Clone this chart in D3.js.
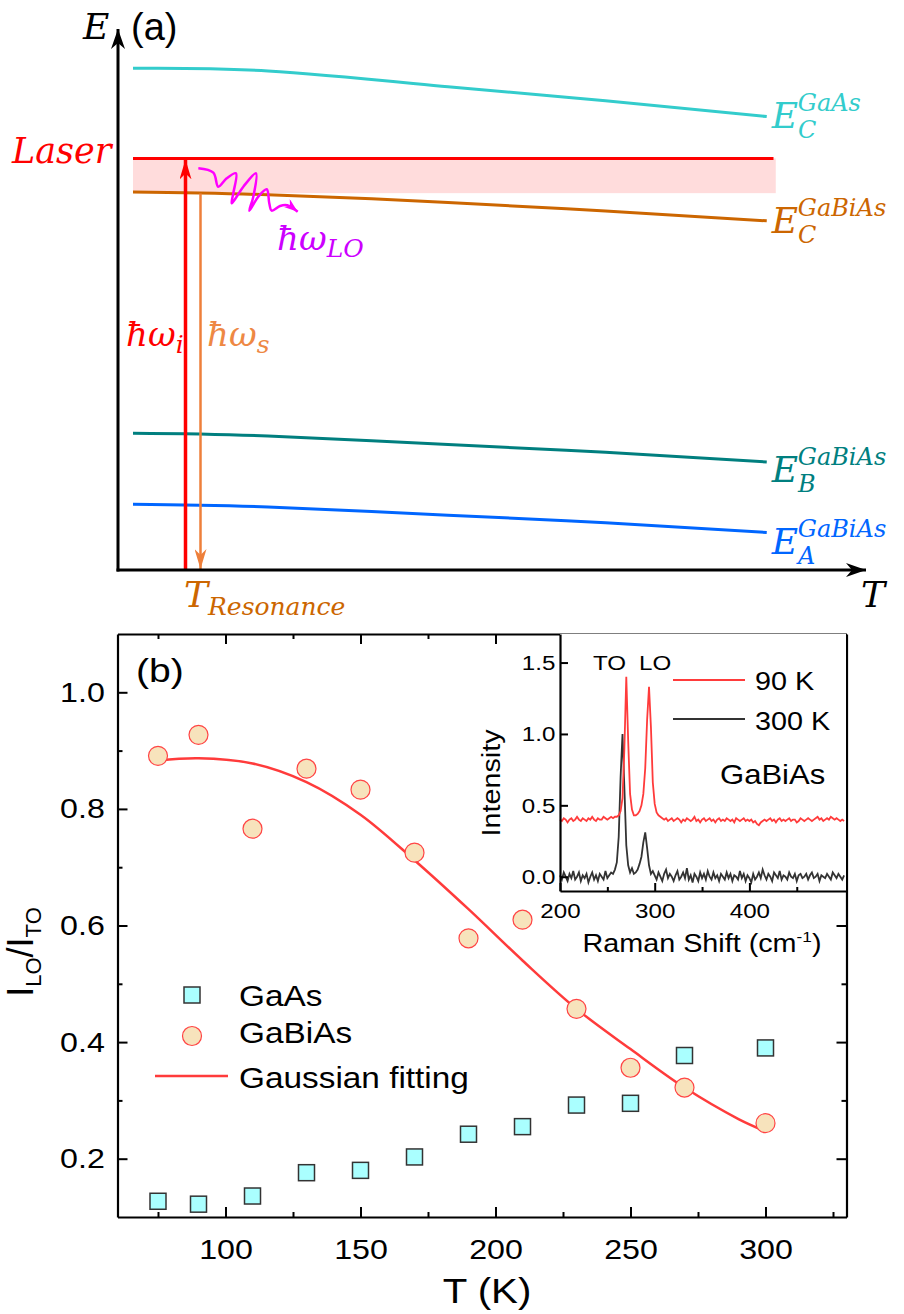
<!DOCTYPE html>
<html>
<head>
<meta charset="utf-8">
<script src="https://cdn.jsdelivr.net/npm/d3@7"></script>
<style>
body{margin:0;background:#fff}
</style>
</head>
<body>
<svg id="fig" width="904" height="1314" font-family="Liberation Sans, Arial, sans-serif"></svg>
<script>
// ---------- panel (a): schematic levels, arbitrary units ----------
const schemeT = [2, 20, 44, 65, 86.5];
const ecGaAs = [92.4, 91.9, 89.0, 86.4, 83.5];
const ecGaBiAs = [69.6, 69.1, 67.7, 66.1, 64.3];
const ebGaBiAs = [25.2, 24.7, 23.1, 21.7, 19.9];
const eaGaBiAs = [12.1, 11.6, 10.1, 8.7, 6.9];
const laserE = 75.8;
const laserT = [2, 87.4];
const bandE = [69.4, 75.8];
const bandT = [2, 87.7];
const resonanceT = 9.0;
const scatterT = 11.0;
const phononT = [10.71, 12.71, 13.37, 14.49, 15.73, 15.37, 15.16, 16.71, 18.40, 18.04, 17.51, 18.71, 19.83, 20.17, 20.49, 21.60, 22.57, 23.96];
const phononE = [73.98, 73.17, 70.59, 72.14, 73.06, 69.37, 67.53, 70.59, 73.06, 68.75, 66.17, 68.75, 70.11, 67.53, 66.17, 67.03, 67.16, 65.99];

// ---------- panel (b): I_LO / I_TO ----------
const temps = [75, 90, 110, 130, 150, 170, 190, 210, 230, 250, 270, 300];
const ratioGaAs = [0.127, 0.122, 0.136, 0.176, 0.180, 0.203, 0.242, 0.255, 0.292, 0.295, 0.377, 0.390];
const ratioGaBiAs = [0.891, 0.927, 0.766, 0.869, 0.833, 0.725, 0.578, 0.610, 0.457, 0.356, 0.322, 0.261];
const fitT = [75, 90, 110, 130, 150, 170, 190, 210, 230, 250, 270, 290, 300];
const fitRatio = [0.883, 0.887, 0.878, 0.846, 0.790, 0.712, 0.628, 0.540, 0.457, 0.388, 0.322, 0.268, 0.247];
const tMajor = [100, 150, 200, 250, 300];
const tMinor = [75, 125, 175, 225, 275, 325];
const rMajor = [0.2, 0.4, 0.6, 0.8, 1.0];
const rMinor = [0.3, 0.5, 0.7, 0.9];

// ---------- inset: Raman spectra (shift grid 200..500, step 2) ----------
const shiftGrid = d3.range(200, 501, 2);
const spec90K = [
0.40,0.39,0.41,0.40,0.38,0.40,0.41,0.39,0.40,0.42,
0.40,0.39,0.41,0.40,0.39,0.41,0.40,0.42,0.40,0.39,
0.41,0.40,0.40,0.42,0.41,0.40,0.41,0.42,0.41,0.42,
0.42,0.43,0.46,0.55,0.90,1.40,0.95,0.58,0.47,0.43,
0.43,0.44,0.46,0.50,0.58,0.76,1.10,1.33,1.05,0.66,
0.51,0.45,0.43,0.42,0.41,0.40,0.41,0.39,0.40,0.41,
0.39,0.40,0.41,0.40,0.38,0.40,0.39,0.41,0.40,0.39,
0.40,0.42,0.39,0.40,0.38,0.40,0.41,0.39,0.40,0.41,
0.39,0.40,0.38,0.40,0.41,0.39,0.40,0.39,0.41,0.40,
0.39,0.40,0.38,0.41,0.40,0.39,0.40,0.41,0.39,0.40,
0.39,0.40,0.38,0.39,0.37,0.36,0.38,0.39,0.40,0.39,
0.40,0.41,0.39,0.40,0.38,0.40,0.41,0.39,0.40,0.39,
0.40,0.41,0.39,0.40,0.40,0.38,0.39,0.41,0.40,0.39,
0.40,0.41,0.40,0.39,0.40,0.41,0.42,0.40,0.41,0.39,
0.40,0.41,0.40,0.42,0.41,0.40,0.41,0.40,0.39,0.40,
0.39];
const spec300K = [
0.01,-0.02,0.03,0.00,-0.03,0.02,-0.01,0.04,-0.02,0.00,
0.03,-0.03,0.01,-0.01,0.02,-0.04,0.00,0.03,-0.02,0.01,
-0.03,0.02,0.00,-0.02,0.04,-0.01,0.01,0.03,0.02,0.05,
0.10,0.28,0.70,1.00,0.62,0.22,0.08,0.03,0.06,0.02,
0.03,0.05,0.09,0.14,0.24,0.31,0.20,0.08,0.02,0.04,
0.01,-0.02,0.03,0.00,-0.03,0.02,0.05,-0.01,0.02,0.00,
-0.03,0.01,0.04,-0.02,0.00,0.03,-0.01,0.06,-0.02,0.01,
-0.04,0.02,0.00,-0.03,0.03,-0.01,0.02,-0.02,0.04,0.00,
-0.02,0.03,-0.01,0.01,-0.03,0.02,0.00,-0.02,0.03,-0.01,
0.02,-0.03,0.01,0.00,-0.02,0.04,-0.01,0.02,-0.03,0.01,
-0.01,-0.04,0.02,-0.02,0.00,0.03,-0.01,0.05,0.01,-0.02,
0.02,0.00,-0.03,0.03,0.01,-0.01,0.04,-0.02,0.01,0.00,
-0.02,0.03,0.00,-0.01,0.02,-0.03,0.01,0.02,-0.01,0.00,
0.02,-0.02,0.01,0.03,-0.01,0.00,0.02,-0.03,0.01,0.00,
-0.01,0.02,0.00,-0.02,0.03,0.01,-0.01,0.02,0.00,-0.02,
0.01];
const shiftMajor = [200, 300, 400];
const shiftMinor = [250, 350, 450];
const intMajor = [0, 0.5, 1.0, 1.5];

const svg = d3.select("#fig");
const SERIF = "DejaVu Serif, Liberation Serif, serif";
const SANS = "Liberation Sans, Arial, sans-serif";
const K = 1.15; // panel (b) text is drawn a bit wide

// ================= panel (a) =================
const xA = d3.scaleLinear().domain([0, 100]).range([118, 868]);
const yA = d3.scaleLinear().domain([0, 100]).range([570, 27]);
const defs = svg.append("defs");
function marker(id, color, len, half) {
    defs.append("marker").attr("id", id).attr("markerUnits", "userSpaceOnUse")
        .attr("viewBox", `${-len} ${-half} ${len + 1} ${2 * half}`)
        .attr("refX", 0).attr("refY", 0)
        .attr("markerWidth", len + 1).attr("markerHeight", 2 * half)
        .attr("orient", "auto")
        .append("path").attr("d", `M0,0 L${-len},${-half} L${-len * 0.7},0 L${-len},${half} Z`)
        .attr("fill", color);
}
marker("arBlack", "#000", 20, 7);
marker("arRed", "#ff0000", 20, 6);
marker("arOrange", "#ee7f3a", 20, 6);
marker("arPink", "#ff00ff", 14, 5);

const gA = svg.append("g");
// laser window band
gA.append("rect")
    .attr("x", xA(bandT[0])).attr("width", xA(bandT[1]) - xA(bandT[0]))
    .attr("y", yA(bandE[1])).attr("height", yA(bandE[0]) - yA(bandE[1]))
    .attr("fill", "#ffdcdc");

const levelLine = d3.line().x((d, i) => xA(schemeT[i])).y(d => yA(d)).curve(d3.curveNatural);
const levels = [
    {vals: ecGaAs, color: "#33cccc", sub: "C", sup: "GaAs", dy: 11.6},
    {vals: ecGaBiAs, color: "#cc6600", sub: "C", sup: "GaBiAs", dy: 12.6},
    {vals: ebGaBiAs, color: "#007f7f", sub: "B", sup: "GaBiAs", dy: 20},
    {vals: eaGaBiAs, color: "#0066ff", sub: "A", sup: "GaBiAs", dy: 21}
];
levels.forEach(lv => {
    gA.append("path").attr("d", levelLine(lv.vals))
        .attr("fill", "none").attr("stroke", lv.color).attr("stroke-width", 3);
    const x0 = xA(schemeT[schemeT.length - 1]) + 5;
    const yb = yA(lv.vals[lv.vals.length - 1]) + lv.dy;
    // one text element: E, subscript, then superscript stacked above the subscript
    const t = gA.append("text").attr("x", x0).attr("y", yb).attr("fill", lv.color)
        .attr("font-family", SERIF).attr("font-style", "italic").attr("font-size", 36);
    t.append("tspan").text("E");
    t.append("tspan").attr("font-size", 24).attr("dy", 10).text(lv.sub);
    t.append("tspan").attr("font-size", 24).attr("x", x0 + 26).attr("dy", -27).text(lv.sup);
});

// laser line
gA.append("line").attr("x1", xA(laserT[0])).attr("x2", xA(laserT[1]))
    .attr("y1", yA(laserE)).attr("y2", yA(laserE))
    .attr("stroke", "#ff0000").attr("stroke-width", 3);

// incident and scattered photons
gA.append("line").attr("x1", xA(resonanceT)).attr("x2", xA(resonanceT))
    .attr("y1", yA(0)).attr("y2", yA(laserE) + 1)
    .attr("stroke", "#ff0000").attr("stroke-width", 3.5).attr("marker-end", "url(#arRed)");
const ecAt = d3.scaleLinear().domain(schemeT).range(ecGaBiAs);
gA.append("line").attr("x1", xA(scatterT)).attr("x2", xA(scatterT))
    .attr("y1", yA(ecAt(scatterT))).attr("y2", yA(0) - 1)
    .attr("stroke", "#ee7f3a").attr("stroke-width", 2.5).attr("marker-end", "url(#arOrange)");

// LO phonon squiggle
gA.append("path")
    .attr("d", d3.line().x((d, i) => xA(phononT[i])).y(d => yA(d)).curve(d3.curveCatmullRom.alpha(0.5))(phononE))
    .attr("fill", "none").attr("stroke", "#ff00ff").attr("stroke-width", 2.5)
    .attr("marker-end", "url(#arPink)");

// axes of the scheme
gA.append("line").attr("x1", xA(0)).attr("x2", xA(0)).attr("y1", yA(0) + 1.5).attr("y2", yA(100) + 2)
    .attr("stroke", "#000").attr("stroke-width", 3).attr("marker-end", "url(#arBlack)");
gA.append("line").attr("x1", xA(0) - 1.5).attr("x2", xA(100) - 2).attr("y1", yA(0)).attr("y2", yA(0))
    .attr("stroke", "#000").attr("stroke-width", 3).attr("marker-end", "url(#arBlack)");

function mathText(x, y, color, size, main, sub, subSize, subDy) {
    const t = gA.append("text").attr("x", x).attr("y", y).attr("fill", color)
        .attr("font-family", SERIF).attr("font-style", "italic").attr("font-size", size);
    t.append("tspan").text(main);
    if (sub) t.append("tspan").attr("font-size", subSize).attr("dy", subDy).text(sub);
    return t;
}
mathText(83, 39, "#000", 36, "E");
mathText(861, 607, "#000", 36, "T");
mathText(12, 163, "#ff0000", 35, "Laser");
mathText(126, 346, "#ff0000", 34, "ħω", "i", 25, 7);
mathText(207, 346, "#ee8844", 34, "ħω", "s", 25, 7);
mathText(277, 250, "#cc00ff", 34, "ħω", "LO", 25, 7);
mathText(184, 607, "#cc6600", 36, "T", "Resonance", 25, 8);
gA.append("text").attr("x", 131).attr("y", 40).attr("font-size", 38).attr("font-family", SANS).text("(a)");

// ================= panel (b) =================
const xB = d3.scaleLinear().domain([60, 330]).range([117.5, 846.5]);
const yB = d3.scaleLinear().domain([0.1, 1.1]).range([1217, 634]);
const gB = svg.append("g");

function styleAxis(g, size) {
    g.attr("font-family", SANS);
    g.selectAll("path.domain").attr("stroke-width", 2.2);
    g.selectAll(".tick line").attr("stroke-width", 2);
    g.selectAll(".tick text").attr("font-size", size).attr("fill", "#000")
        .attr("transform", `scale(${K},1)`);
}
function wideText(g, x, y, size, str, anchor) {
    return g.append("text").attr("transform", `translate(${x},${y}) scale(${K},1)`)
        .attr("text-anchor", anchor || "start").attr("font-size", size).text(str);
}

// fit and data
gB.append("path")
    .attr("d", d3.line().x((d, i) => xB(fitT[i])).y(d => yB(d)).curve(d3.curveCatmullRom)(fitRatio))
    .attr("fill", "none").attr("stroke", "#ff3b3b").attr("stroke-width", 2.5);
gB.selectAll("rect.gaas").data(ratioGaAs).join("rect").attr("class", "gaas")
    .attr("x", (d, i) => xB(temps[i]) - 8).attr("y", d => yB(d) - 8)
    .attr("width", 16).attr("height", 16)
    .attr("fill", "#aaffff").attr("stroke", "#333").attr("stroke-width", 1.5);
gB.selectAll("circle.gabias").data(ratioGaBiAs).join("circle").attr("class", "gabias")
    .attr("cx", (d, i) => xB(temps[i])).attr("cy", d => yB(d)).attr("r", 9.5)
    .attr("fill", "#f7e3bc").attr("stroke", "#ff4444").attr("stroke-width", 1.2);

// legend
gB.append("rect").attr("x", 184).attr("y", 987).attr("width", 16).attr("height", 16)
    .attr("fill", "#aaffff").attr("stroke", "#333").attr("stroke-width", 1.5);
gB.append("circle").attr("cx", 192).attr("cy", 1036).attr("r", 9.5)
    .attr("fill", "#f7e3bc").attr("stroke", "#ff4444").attr("stroke-width", 1.2);
gB.append("line").attr("x1", 155).attr("x2", 228).attr("y1", 1076).attr("y2", 1076)
    .attr("stroke", "#ff3b3b").attr("stroke-width", 2.5);
wideText(gB, 239, 1006, 29, "GaAs");
wideText(gB, 239, 1043, 29, "GaBiAs");
wideText(gB, 239, 1088, 29, "Gaussian fitting");

// bottom and left axes
const axB = gB.append("g").attr("transform", `translate(0,${yB(0.1)})`)
    .call(d3.axisBottom(xB).tickValues(tMajor).tickSizeInner(-10).tickSizeOuter(0).tickPadding(22).tickFormat(d3.format("d")));
styleAxis(axB, 28);
gB.append("g").attr("transform", `translate(0,${yB(0.1)})`)
    .call(d3.axisBottom(xB).tickValues(tMinor).tickSize(-5).tickFormat(""))
    .call(g => { g.select(".domain").remove(); g.selectAll("line").attr("stroke-width", 2); });
const axL = gB.append("g").attr("transform", `translate(${xB(60)},0)`)
    .call(d3.axisLeft(yB).tickValues(rMajor).tickSizeInner(-10).tickSizeOuter(0).tickPadding(11).tickFormat(d3.format(".1f")));
styleAxis(axL, 28);
gB.append("g").attr("transform", `translate(${xB(60)},0)`)
    .call(d3.axisLeft(yB).tickValues(rMinor).tickSize(-5).tickFormat(""))
    .call(g => { g.select(".domain").remove(); g.selectAll("line").attr("stroke-width", 2); });

// axis titles
wideText(gB, 487, 1303, 35, "T (K)", "middle");
const yt = gB.append("text").attr("transform", "translate(33,952) rotate(-90)")
    .attr("text-anchor", "middle").attr("font-size", 36);
yt.append("tspan").text("I");
yt.append("tspan").attr("font-size", 22).attr("dy", 8).text("LO");
yt.append("tspan").attr("dy", -8).text("/I");
yt.append("tspan").attr("font-size", 22).attr("dy", 8).text("TO");
wideText(gB, 136, 682, 34, "(b)");

// ---------- inset ----------
const xI = d3.scaleLinear().domain([200, 502]).range([560, 846]);
const yI = d3.scaleLinear().domain([-0.1, 1.7]).range([891, 634]);
const gI = svg.append("g");
gI.append("rect").attr("x", 560).attr("y", 634).attr("width", 286).attr("height", 257)
    .attr("fill", "#fff");
const specLine = d3.line().x((d, i) => xI(shiftGrid[i])).y(d => yI(d));
gI.append("path").attr("d", specLine(spec300K)).attr("fill", "none")
    .attr("stroke", "#333").attr("stroke-width", 1.8);
gI.append("path").attr("d", specLine(spec90K)).attr("fill", "none")
    .attr("stroke", "#ff3b3b").attr("stroke-width", 1.8);
const axIB = gI.append("g").attr("transform", `translate(0,${yI(-0.1)})`)
    .call(d3.axisBottom(xI).tickValues(shiftMajor).tickSizeInner(-8).tickSizeOuter(0).tickPadding(12).tickFormat(d3.format("d")));
styleAxis(axIB, 21);
gI.append("g").attr("transform", `translate(0,${yI(-0.1)})`)
    .call(d3.axisBottom(xI).tickValues(shiftMinor).tickSize(-4).tickFormat(""))
    .call(g => { g.select(".domain").remove(); g.selectAll("line").attr("stroke-width", 2); });
const axIL = gI.append("g").attr("transform", `translate(${xI(200)},0)`)
    .call(d3.axisLeft(yI).tickValues(intMajor).tickSizeInner(-8).tickSizeOuter(0).tickPadding(4).tickFormat(d3.format(".1f")));
styleAxis(axIL, 21);
wideText(gI, 593, 670, 21, "TO");
wideText(gI, 639, 670, 21, "LO");
gI.append("line").attr("x1", 673).attr("x2", 745).attr("y1", 680).attr("y2", 680)
    .attr("stroke", "#ff3b3b").attr("stroke-width", 2);
gI.append("line").attr("x1", 673).attr("x2", 745).attr("y1", 719).attr("y2", 719)
    .attr("stroke", "#333").attr("stroke-width", 2);
wideText(gI, 755, 690, 25, "90 K");
wideText(gI, 755, 730, 25, "300 K");
wideText(gI, 720, 784, 27, "GaBiAs");
const rs = wideText(gI, 702, 952, 25, "Raman Shift (cm", "middle");
rs.append("tspan").attr("font-size", 15).attr("dy", -10).text("-1");
rs.append("tspan").attr("dy", 10).text(")");
gI.append("text").attr("transform", `translate(500,783) rotate(-90) scale(${K},1)`)
    .attr("text-anchor", "middle").attr("font-size", 25).text("Intensity");

// main top and right frame (drawn over the inset)
gB.append("g").attr("transform", `translate(0,${yB(1.1)})`)
    .call(d3.axisTop(xB).tickValues(tMajor).tickSizeInner(-10).tickSizeOuter(0).tickFormat(""))
    .call(g => { g.select(".domain").attr("stroke-width", 2.2); g.selectAll("line").attr("stroke-width", 2); });
gB.append("g").attr("transform", `translate(0,${yB(1.1)})`)
    .call(d3.axisTop(xB).tickValues(tMinor).tickSize(-5).tickFormat(""))
    .call(g => { g.select(".domain").remove(); g.selectAll("line").attr("stroke-width", 2); });
gB.append("g").attr("transform", `translate(${xB(330)},0)`)
    .call(d3.axisRight(yB).tickValues(rMajor).tickSizeInner(-10).tickSizeOuter(0).tickFormat(""))
    .call(g => { g.select(".domain").attr("stroke-width", 2.2); g.selectAll("line").attr("stroke-width", 2); });
gB.append("g").attr("transform", `translate(${xB(330)},0)`)
    .call(d3.axisRight(yB).tickValues(rMinor).tickSize(-5).tickFormat(""))
    .call(g => { g.select(".domain").remove(); g.selectAll("line").attr("stroke-width", 2); });
</script>
</body>
</html>
